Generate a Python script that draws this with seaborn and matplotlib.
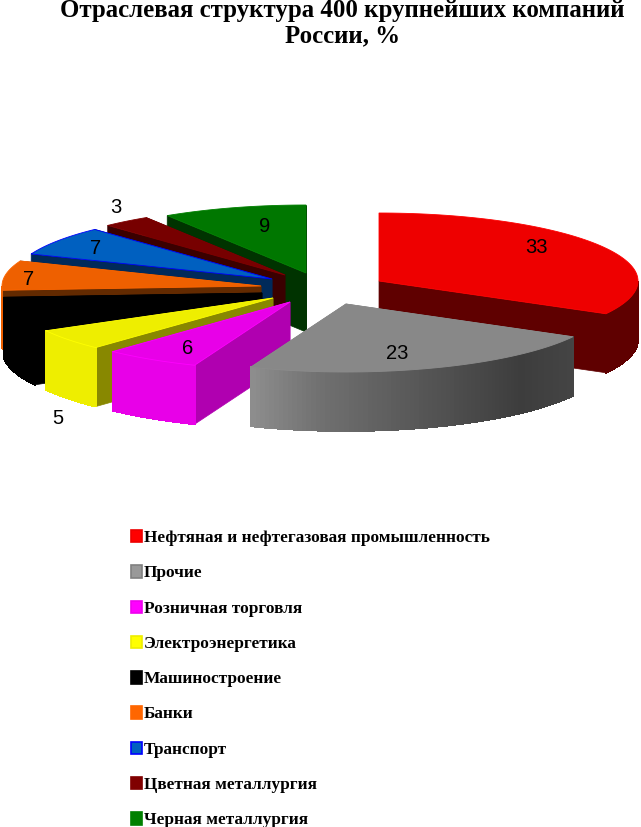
import numpy as np
import matplotlib
matplotlib.use("Agg")
import matplotlib.pyplot as plt
from matplotlib.legend_handler import HandlerPatch
from matplotlib.patches import Polygon, Patch
import seaborn as sns

title = "Отраслевая структура 400 крупнейших компаний\nРоссии, %"
categories = ["Нефтяная и нефтегазовая промышленность", "Прочие", "Розничная торговля",
              "Электроэнергетика", "Машиностроение", "Банки", "Транспорт",
              "Цветная металлургия", "Черная металлургия"]
values = [33, 23, 6, 5, 7, 7, 7, 3, 9]
labels = ["33", "23", "6", "5", "", "7", "7", "3", "9"]

# colours of the faces
top_colors = ["#ee0000", "#888888", "#e800e8", "#eeee00", "#000000",
              "#ee6000", "#0060c0", "#770000", "#007700"]
radial_colors = ["#5f0000", "#707070", "#b000b0", "#888800", "#000000",
                 "#632a00", "#002a5a", "#3a0000", "#003300"]
rim_colors = ["#5f0000", "#555555", "#e800e8", "#eeee00", "#000000",
              "#ee6000", "#002a5a", "#3a0000", "#003300"]
edge_colors = ["#ff0000", "#8c8c8c", "#ff00ff", "#ffff00", "#000000",
               "#ff6600", "#0000ff", "#800000", "#008000"]
legend_colors = ["#ff0000", "#999999", "#ff00ff", "#ffff00", "#000000",
                 "#ff6600", "#0060c0", "#800000", "#008000"]
legend_edges = ["#ee0000", "#808080", "#ee00ee", "#eeee00", "#000000",
                "#ff6600", "#0000ff", "#800000", "#008000"]

# pie layout, in pixels
center = (306, 274)
radius_x, radius_y, depth = 259, 68, 59
explode_x = [73, 40, -16, -33, -44, -45, -34, -21, 0]
explode_y = [8, 31, 29, 25, 20, 13, 6, 2, 0]
label_x = [536, 397, 188, 58, 0, 29, 96, 116, 265]
label_y = [248, 354, 349, 419, 0, 280, 249, 208, 227]
draw_order = [8, 7, 6, 5, 4, 3, 2, 0, 1]

sns.set_theme(style="white")
plt.rcParams["font.family"] = ["Liberation Sans", "DejaVu Sans"]

fig = plt.figure(figsize=(6.41, 8.28), dpi=100)
ax = fig.add_axes([0, 0, 1, 1])
ax.set_xlim(0, 641)
ax.set_ylim(828, 0)
ax.axis("off")

cum = np.cumsum([0] + values) / sum(values) * 2 * np.pi


def rim_point(cx, cy, t):
    return cx + radius_x * np.sin(t), cy - radius_y * np.cos(t)


def draw_wedge(i, z):
    cx = center[0] + explode_x[i]
    cy = center[1] + explode_y[i]
    t0, t1 = cum[i], cum[i + 1]
    ts = np.linspace(t0, t1, 80)
    arc = [rim_point(cx, cy, t) for t in ts]

    # radial faces, the one further back first
    for t in sorted([t0, t1], key=lambda a: -np.cos(a)):
        x, y = rim_point(cx, cy, t)
        pts = [(cx, cy), (x, y), (x, y + depth), (cx, cy + depth)]
        ax.add_patch(Polygon(pts, fc=radial_colors[i], ec=radial_colors[i], lw=0.5, zorder=z))

    # outer rim, only the part facing us
    front = ts[np.cos(ts) < 0]
    for a, b in zip(front[:-1], front[1:]):
        xa, ya = rim_point(cx, cy, a)
        xb, yb = rim_point(cx, cy, b)
        color = rim_colors[i]
        if categories[i] == "Прочие":
            g = np.interp((xa + xb) / 2, [250, 320, 520, 575], [0x8e, 0x70, 0x3d, 0x45]) / 255
            color = (g, g, g)
        ax.add_patch(Polygon([(xa, ya), (xb, yb), (xb, yb + depth), (xa, ya + depth)],
                             fc=color, ec=color, lw=0.6, antialiased=False, zorder=z))

    ax.add_patch(Polygon([(cx, cy)] + arc, fc=top_colors[i], ec=edge_colors[i], lw=0.6, zorder=z))


for z, i in enumerate(draw_order):
    draw_wedge(i, z + 1)

for i, lab in enumerate(labels):
    if lab:
        ax.text(label_x[i], label_y[i], lab, fontsize=14.5, color="black",
                ha="center", va="center", zorder=30)

ax.text(342.5, 23.5, title, fontsize=17.9, fontweight="bold", family="Liberation Serif",
        ha="center", va="center", linespacing=1.12, color="black", zorder=30)

handles = [Patch(fc=legend_colors[i], ec=legend_edges[i], lw=1.2) for i in range(len(categories))]
ax.legend(handles, categories, loc="upper left", bbox_to_anchor=(131 / 641, 1 - 530 / 828),
          frameon=False, ncol=1, prop={"family": "Liberation Serif", "weight": "bold", "size": 12.4},
          handlelength=0.62, handleheight=0.5, handletextpad=0.12, labelspacing=1.12,
          borderpad=0, borderaxespad=0, labelcolor="black",
          handler_map={Patch: HandlerPatch(ypad=-0.15)})

fig.savefig("out.png", dpi=100, facecolor="white")
